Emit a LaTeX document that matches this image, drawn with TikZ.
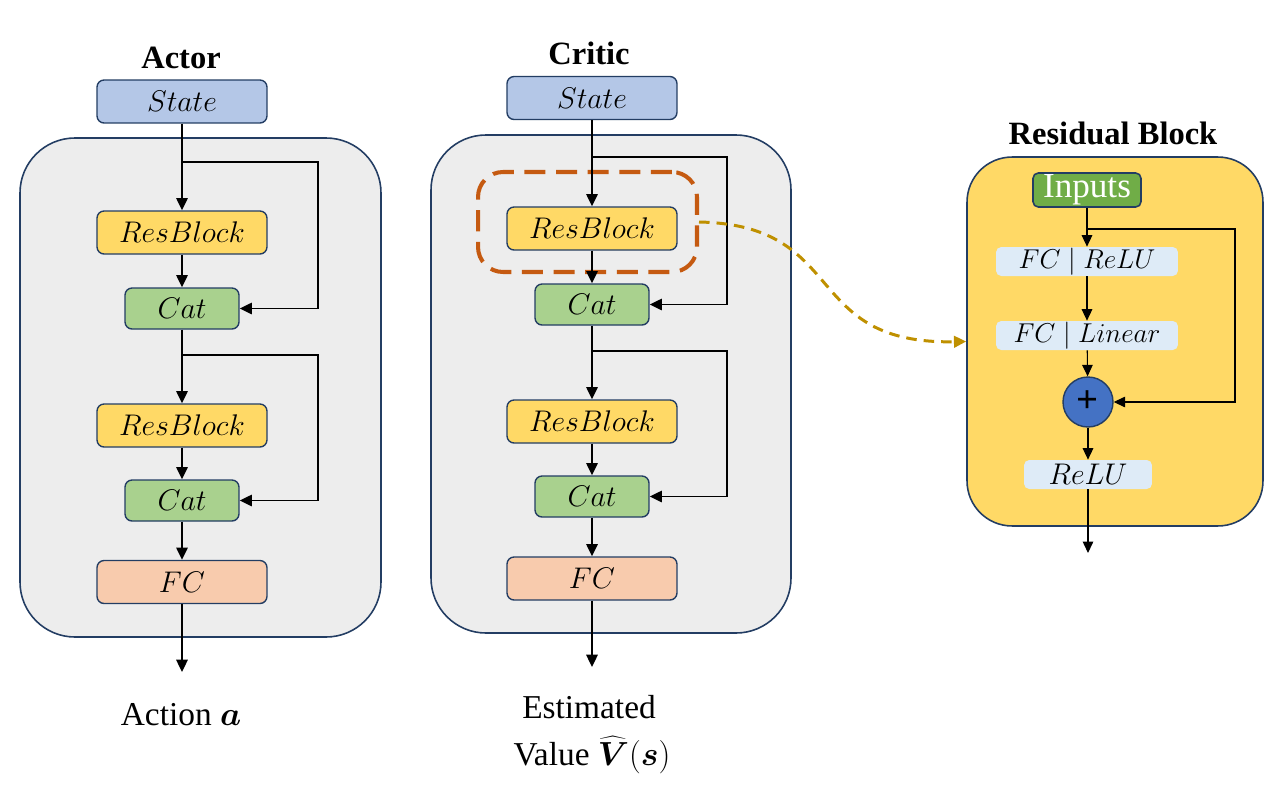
\RequirePackage{fix-cm}
\documentclass[tikz,border=0pt]{standalone}
\usepackage{bm}
\usepackage{fontspec}
\setmainfont{Liberation Serif}
\usetikzlibrary{arrows.meta}
\definecolor{bd}{HTML}{233D63}
\definecolor{cblue}{HTML}{B4C7E7}
\definecolor{cyel}{HTML}{FFD966}
\definecolor{cgreen}{HTML}{A9D18E}
\definecolor{cfc}{HTML}{F8CBAD}
\definecolor{cgray}{HTML}{EDEDED}
\definecolor{corange}{HTML}{C55A11}
\definecolor{cgold}{HTML}{BF9000}
\definecolor{cinput}{HTML}{70AD47}
\definecolor{clight}{HTML}{DEEBF7}
\definecolor{ccircle}{HTML}{4472C4}
\begin{document}
\begin{tikzpicture}[x=0.02cm,y=-0.02cm,
  blk/.style={draw=bd, line width=0.8pt, rounded corners=4pt, inner sep=0pt, font=\fontsize{17}{20}\selectfont},
  wide/.style={blk, minimum width=3.4cm, minimum height=0.86cm},
  catb/.style={blk, minimum width=2.28cm, minimum height=0.82cm, fill=cgreen},
  outerbox/.style={draw=bd, line width=0.9pt, fill=cgray, rounded corners=1.1cm},
  arr/.style={-{Triangle[length=7pt,width=6.5pt]}, line width=1.1pt},
  title/.style={font=\fontsize{18.5}{22}\selectfont\bfseries},
  lab/.style={font=\fontsize{19}{23}\selectfont, inner sep=0pt},
  light/.style={fill=clight, rounded corners=3pt, inner sep=0pt, minimum height=0.58cm, font=\fontsize{15.5}{18}\selectfont},
  rarr/.style={-{Triangle[length=6.5pt,width=6pt]}, line width=0.6pt},
  dashbox/.style={draw=corange, line width=2.3pt, dash pattern=on 12pt off 6pt, rounded corners=0.5cm},
  goldarr/.style={draw=cgold, line width=1.7pt, dash pattern=on 6pt off 4pt, -{Triangle[length=7pt,width=6.5pt]}, cgold}
]
\useasboundingbox (0,0) rectangle (1285,798);

% ---------------- Actor ----------------
\node[title] (atitle) at (181,58) {Actor};
\draw[outerbox] (20,138) rectangle (381,637);
\node[wide, fill=cblue] (as) at (182,101.5) {$State$};
\node[wide, fill=cyel] (ar1) at (182,232.5) {$ResBlock$};
\node[catb] (ac1) at (182,308.5) {$Cat$};
\node[wide, fill=cyel] (ar2) at (182,425.5) {$ResBlock$};
\node[catb] (ac2) at (182,500.5) {$Cat$};
\node[wide, fill=cfc] (afc) at (182,582) {$FC$};
\coordinate (ab1) at (182,162);
\coordinate (ab2) at (182,355);
\coordinate (aout) at (182,672);
\node[lab, anchor=base] (alab) at (181,725) {Action $\bm a$};
\draw[arr] (as) -- (ar1);
\draw[arr] (ar1) -- (ac1);
\draw[arr] (ac1) -- (ar2);
\draw[arr] (ar2) -- (ac2);
\draw[arr] (ac2) -- (afc);
\draw[arr] (afc) -- (aout);
\draw[arr] (ab1) -- ++(136,0) |- (ac1.east);
\draw[arr] (ab2) -- ++(136,0) |- (ac2.east);

% ---------------- Critic ----------------
\node[title] (ctitle) at (589,53) {Critic};
\draw[outerbox] (431,135) rectangle (791,633);
\node[wide, fill=cblue] (cs) at (592,98) {$State$};
\node[dashbox, minimum width=4.38cm, minimum height=2cm] (hl) at (587.5,222) {};
\node[wide, fill=cyel] (cr1) at (592,228.5) {$ResBlock$};
\node[catb] (cc1) at (592,304.5) {$Cat$};
\node[wide, fill=cyel] (cr2) at (592,421.5) {$ResBlock$};
\node[catb] (cc2) at (592,496.5) {$Cat$};
\node[wide, fill=cfc] (cfcn) at (592,578.5) {$FC$};
\coordinate (cb1) at (592,157);
\coordinate (cb2) at (592,351);
\coordinate (cout) at (592,667);
\node[lab, anchor=base] (clab1) at (589,718) {Estimated};
\node[lab, anchor=base] (clab2) at (592,765) {Value $\widehat{\bm V}(\bm s)$};
\draw[arr] (cs) -- (cr1);
\draw[arr] (cr1) -- (cc1);
\draw[arr] (cc1) -- (cr2);
\draw[arr] (cr2) -- (cc2);
\draw[arr] (cc2) -- (cfcn);
\draw[arr] (cfcn) -- (cout);
\draw[arr] (cb1) -- ++(135,0) |- (cc1.east);
\draw[arr] (cb2) -- ++(135,0) |- (cc2.east);

% ---------------- Residual block ----------------
\node[title] (rtitle) at (1113,133) {Residual Block};
\node[draw=bd, line width=0.9pt, fill=cyel, rounded corners=0.9cm, minimum width=5.92cm, minimum height=7.38cm] (rbx) at (1115,341.5) {};
\node[draw=bd, line width=0.9pt, fill=cinput, rounded corners=3pt, inner sep=0pt, minimum width=2.16cm, minimum height=0.68cm, text=white, font=\fontsize{20}{22}\selectfont] (rin) at (1087,190) {Inputs};
\node[light, minimum width=3.64cm] (rf1) at (1087,261.5) {$FC\mid ReLU$};
\node[light, minimum width=3.64cm] (rf2) at (1087,335.5) {$FC\mid Linear$};
\node[circle, draw=bd, line width=0.8pt, fill=ccircle, minimum size=1cm, inner sep=0pt, font=\fontsize{22}{24}\selectfont\bfseries] (rplus) at (1088,402) {+};
\node[light, minimum width=2.56cm, font=\fontsize{17}{19}\selectfont] (rrelu) at (1088,474.5) {$ReLU$};
\coordinate (rb) at (1088,229);
\coordinate (rout) at (1088,553);
\draw[rarr] (rin) -- (rf1);
\draw[rarr] (rf1) -- (rf2);
\draw[rarr] (rf2) -- (rplus);
\draw[rarr] (rplus) -- (rrelu);
\draw[rarr] (rrelu) -- (rout);
\draw[rarr] (rb) -- ++(147,0) |- (rplus.east);

% ---------------- link ----------------
\draw[goldarr] (hl.east) .. controls (850,225) and (800,345) .. (rbx.west);
\end{tikzpicture}
\end{document}
